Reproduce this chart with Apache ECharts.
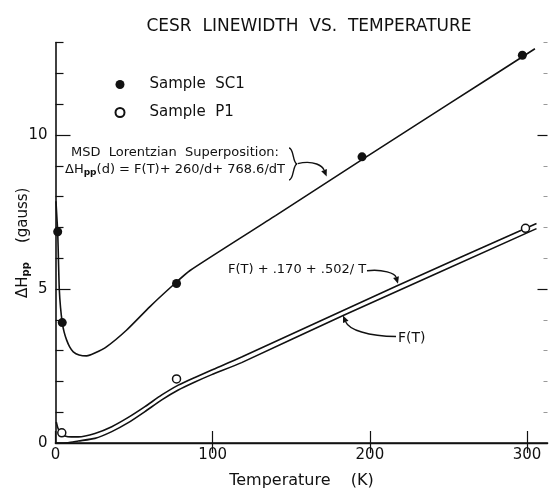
<!DOCTYPE html>
<html>
<head>
<meta charset="utf-8">
<title>CESR linewidth vs. temperature</title>
<script src="https://cdn.jsdelivr.net/npm/echarts@6/dist/echarts.min.js"></script>
<style>
  html, body { margin: 0; padding: 0; background: #fff; }
  #chart { width: 549px; height: 488px; }
</style>
</head>
<body>
<div id="chart"></div>
<script>
// measured points (T in K, linewidth in gauss)
var sc1Points = [[1.4, 6.86], [4.3, 3.91], [77, 5.18], [195, 9.29], [297, 12.59]];
var p1Points = [[4, 0.33], [77, 2.08], [299, 6.97]];

// MSD Lorentzian superposition curve for SC1
var sc1Curve = [
  [0.3, 7.85], [0.9, 7.3], [1.4, 6.86], [1.9, 5.9], [2.4, 5.0], [3.2, 4.4],
  [4.3, 3.91], [5.5, 3.6], [7.1, 3.34], [9, 3.12], [11.3, 2.96], [15, 2.86],
  [19.8, 2.83], [25, 2.92], [32.6, 3.13], [45.3, 3.67], [60.1, 4.43],
  [74.9, 5.13], [85.6, 5.6], [140, 7.38], [195, 9.2], [250, 11.0], [305, 12.8]
];
// F(T) + .170 + .502/T
var p1Upper = [
  [0.5, 0.68], [1.4, 0.5], [2.9, 0.33], [6, 0.23], [10, 0.2], [14.5, 0.2],
  [25.1, 0.31], [35.8, 0.53], [46.3, 0.83], [56.9, 1.18], [67.6, 1.56],
  [78.1, 1.88], [88.7, 2.13], [99.4, 2.37], [118.4, 2.79], [217, 5.1], [306, 7.13]
];
// F(T)
var p1Lower = [
  [0, 0], [8, 0.01], [14.5, 0.065], [25.1, 0.15], [35.8, 0.37], [46.3, 0.66],
  [56.9, 1.02], [67.6, 1.4], [78.1, 1.72], [88.7, 1.98], [99.4, 2.22],
  [118.4, 2.61], [183, 4.14], [306, 6.96]
];

var xTicks = [0, 100, 200, 300];
var yLabels = [0, 5, 10];
var yMinor = [1, 2, 3, 4, 6, 7, 8, 9, 11, 12, 13];
var yMajor = [5, 10];

// where the annotation arrows touch the curves
var arrowMsd = [172.5, 8.65];
var arrowUpper = [217.9, 5.17];
var arrowLower = [182.9, 4.14];

var font = "DejaVu Sans";
var ink = "#111";

var chart = echarts.init(document.getElementById("chart"));

function lineSeries(data, width) {
  return {
    type: "line",
    data: data,
    showSymbol: false,
    smooth: 0.2,
    lineStyle: { color: ink, width: width || 1.6 },
    silent: true,
    z: 2
  };
}

var yBase = { type: "value", min: 0, max: 13, splitLine: { show: false } };

chart.setOption({
  animation: false,
  backgroundColor: "#fff",
  title: {
    text: "CESR  LINEWIDTH  VS.  TEMPERATURE",
    left: 304,
    textAlign: "center",
    top: 13,
    textStyle: { fontFamily: font, fontSize: 17, fontWeight: "normal", color: ink }
  },
  legend: {
    orient: "vertical",
    left: 114.5,
    top: 77,
    padding: 0,
    itemGap: 13,
    itemWidth: 9,
    itemHeight: 9,
    data: [
      { name: "Sample  SC1", icon: "circle" },
      { name: "Sample  P1", icon: "circle" }
    ],
    textStyle: { fontFamily: font, fontSize: 15, color: ink, padding: [0, 0, 0, 20] }
  },
  grid: { left: 55.5, right: 1.5, top: 42.6, bottom: 45, containLabel: false, outerBoundsMode: "none" },
  xAxis: [
    {
      type: "value",
      min: 0,
      max: 313,
      name: "Temperature    (K)",
      nameLocation: "middle",
      nameGap: 30,
      nameMoveOverlap: false,
      nameTextStyle: { fontFamily: font, fontSize: 16, color: ink },
      axisLine: { lineStyle: { color: ink, width: 1.6 } },
      axisTick: { inside: true, length: 12, customValues: xTicks, lineStyle: { color: ink, width: 1.2 } },
      axisLabel: { customValues: xTicks, margin: 5, fontFamily: font, fontSize: 15, color: ink },
      splitLine: { show: false }
    },
    {
      type: "value",
      position: "top",
      min: 0,
      max: 313,
      axisLine: { lineStyle: { color: ink, width: 1.4 } },
      axisTick: { inside: true, length: 10, customValues: [100, 200, 300], lineStyle: { color: ink, width: 1.2 } },
      axisLabel: { show: false },
      splitLine: { show: false }
    }
  ],
  yAxis: [
    Object.assign({}, yBase, {
      name: "{a|ΔH}{s|pp}{a|    (gauss)}",
      nameLocation: "middle",
      nameRotate: 90,
      nameGap: 24,
      nameMoveOverlap: false,
      nameTextStyle: {
        rich: {
          a: { fontFamily: font, fontSize: 15, color: ink },
          s: { fontFamily: font, fontSize: 10, fontWeight: "bold", color: ink, padding: [7, 0, 0, 0] }
        }
      },
      axisLine: { lineStyle: { color: ink, width: 1.6 } },
      axisTick: { inside: true, length: 8, customValues: yMinor, lineStyle: { color: ink, width: 1.2 } },
      axisLabel: { customValues: yLabels, margin: 8, fontFamily: font, fontSize: 15, color: ink }
    }),
    // longer ticks at 5 and 10
    Object.assign({}, yBase, {
      position: "left",
      axisLine: { show: false },
      axisTick: { inside: true, length: 15, customValues: yMajor, lineStyle: { color: ink, width: 1.2 } },
      axisLabel: { show: false }
    }),
    // right side: ticks only
    Object.assign({}, yBase, {
      position: "right",
      axisLine: { show: false },
      axisTick: { inside: true, length: 4, customValues: yMinor, lineStyle: { color: "#999", width: 1 } },
      axisLabel: { show: false }
    }),
    Object.assign({}, yBase, {
      position: "right",
      axisLine: { show: false },
      axisTick: { inside: true, length: 10, customValues: yMajor, lineStyle: { color: ink, width: 1.2 } },
      axisLabel: { show: false }
    })
  ],
  series: [
    lineSeries(sc1Curve),
    lineSeries(p1Upper),
    lineSeries(p1Lower),
    {
      name: "Sample  SC1",
      type: "scatter",
      data: sc1Points,
      symbol: "circle",
      symbolSize: 9,
      itemStyle: { color: ink, opacity: 1 },
      z: 3
    },
    {
      name: "Sample  P1",
      type: "scatter",
      data: p1Points,
      symbol: "circle",
      symbolSize: 8,
      itemStyle: { color: "#fff", borderColor: ink, borderWidth: 1.5, opacity: 1 },
      z: 3
    }
  ]
});

function curve(p0, c1, c2, p1) {
  return {
    type: "bezierCurve",
    shape: { x1: p0[0], y1: p0[1], cpx1: c1[0], cpy1: c1[1], cpx2: c2[0], cpy2: c2[1], x2: p1[0], y2: p1[1] },
    style: { stroke: ink, lineWidth: 1.4, fill: null },
    z: 10
  };
}

// annotation arrows, anchored on the curves
function arrow(from, c1, c2, to) {
  var ang = Math.atan2(to[1] - c2[1], to[0] - c2[0]);
  var len = 7, half = 3;
  var bx = to[0] - len * Math.cos(ang), by = to[1] - len * Math.sin(ang);
  var nx = -Math.sin(ang) * half, ny = Math.cos(ang) * half;
  return [
    curve(from, c1, c2, [bx, by]),
    {
      type: "polygon",
      shape: { points: [to, [bx + nx, by + ny], [bx - nx, by - ny]] },
      style: { fill: ink },
      z: 10
    }
  ];
}

var pMsd = chart.convertToPixel({ gridIndex: 0 }, arrowMsd);
var pUp = chart.convertToPixel({ gridIndex: 0 }, arrowUpper);
var pLow = chart.convertToPixel({ gridIndex: 0 }, arrowLower);

var textStyle = { fontFamily: font, fontSize: 13, fill: ink };

var graphics = [
  {
    type: "text",
    left: 71,
    top: 146,
    style: Object.assign({ text: "MSD  Lorentzian  Superposition:" }, textStyle),
    z: 10
  },
  {
    type: "text",
    left: 65,
    top: 163,
    style: Object.assign({
      text: "{a|ΔH}{s|pp}{a|(d) = F(T)+ 260/d+ 768.6/dT}",
      rich: {
        a: { fontFamily: font, fontSize: 13, fill: ink },
        s: { fontFamily: font, fontSize: 9, fontWeight: "bold", fill: ink, padding: [6, 0, 0, 0] }
      }
    }, textStyle),
    z: 10
  },
  // curly brace joining the two formula lines
  curve([289, 148], [294, 148], [292.5, 163], [297, 164]),
  curve([297, 164], [292.5, 165], [294, 180], [289, 180]),
  {
    type: "text",
    left: 228,
    top: 263,
    style: Object.assign({ text: "F(T) + .170 + .502/ T" }, textStyle),
    z: 10
  },
  {
    type: "text",
    left: 398,
    top: 331,
    style: Object.assign({ text: "F(T)" }, textStyle, { fontSize: 14 }),
    z: 10
  }
];

graphics = graphics
  .concat(arrow([pMsd[0] - 29, pMsd[1] - 13], [pMsd[0] - 12, pMsd[1] - 17], [pMsd[0] - 4, pMsd[1] - 10], pMsd))
  .concat(arrow([pUp[0] - 31, pUp[1] - 13], [pUp[0] - 15, pUp[1] - 15], [pUp[0] - 3, pUp[1] - 10], pUp))
  .concat(arrow([pLow[0] + 53, pLow[1] + 21], [pLow[0] + 25, pLow[1] + 21], [pLow[0] + 6, pLow[1] + 14], pLow));

chart.setOption({ graphic: graphics });
</script>
</body>
</html>
